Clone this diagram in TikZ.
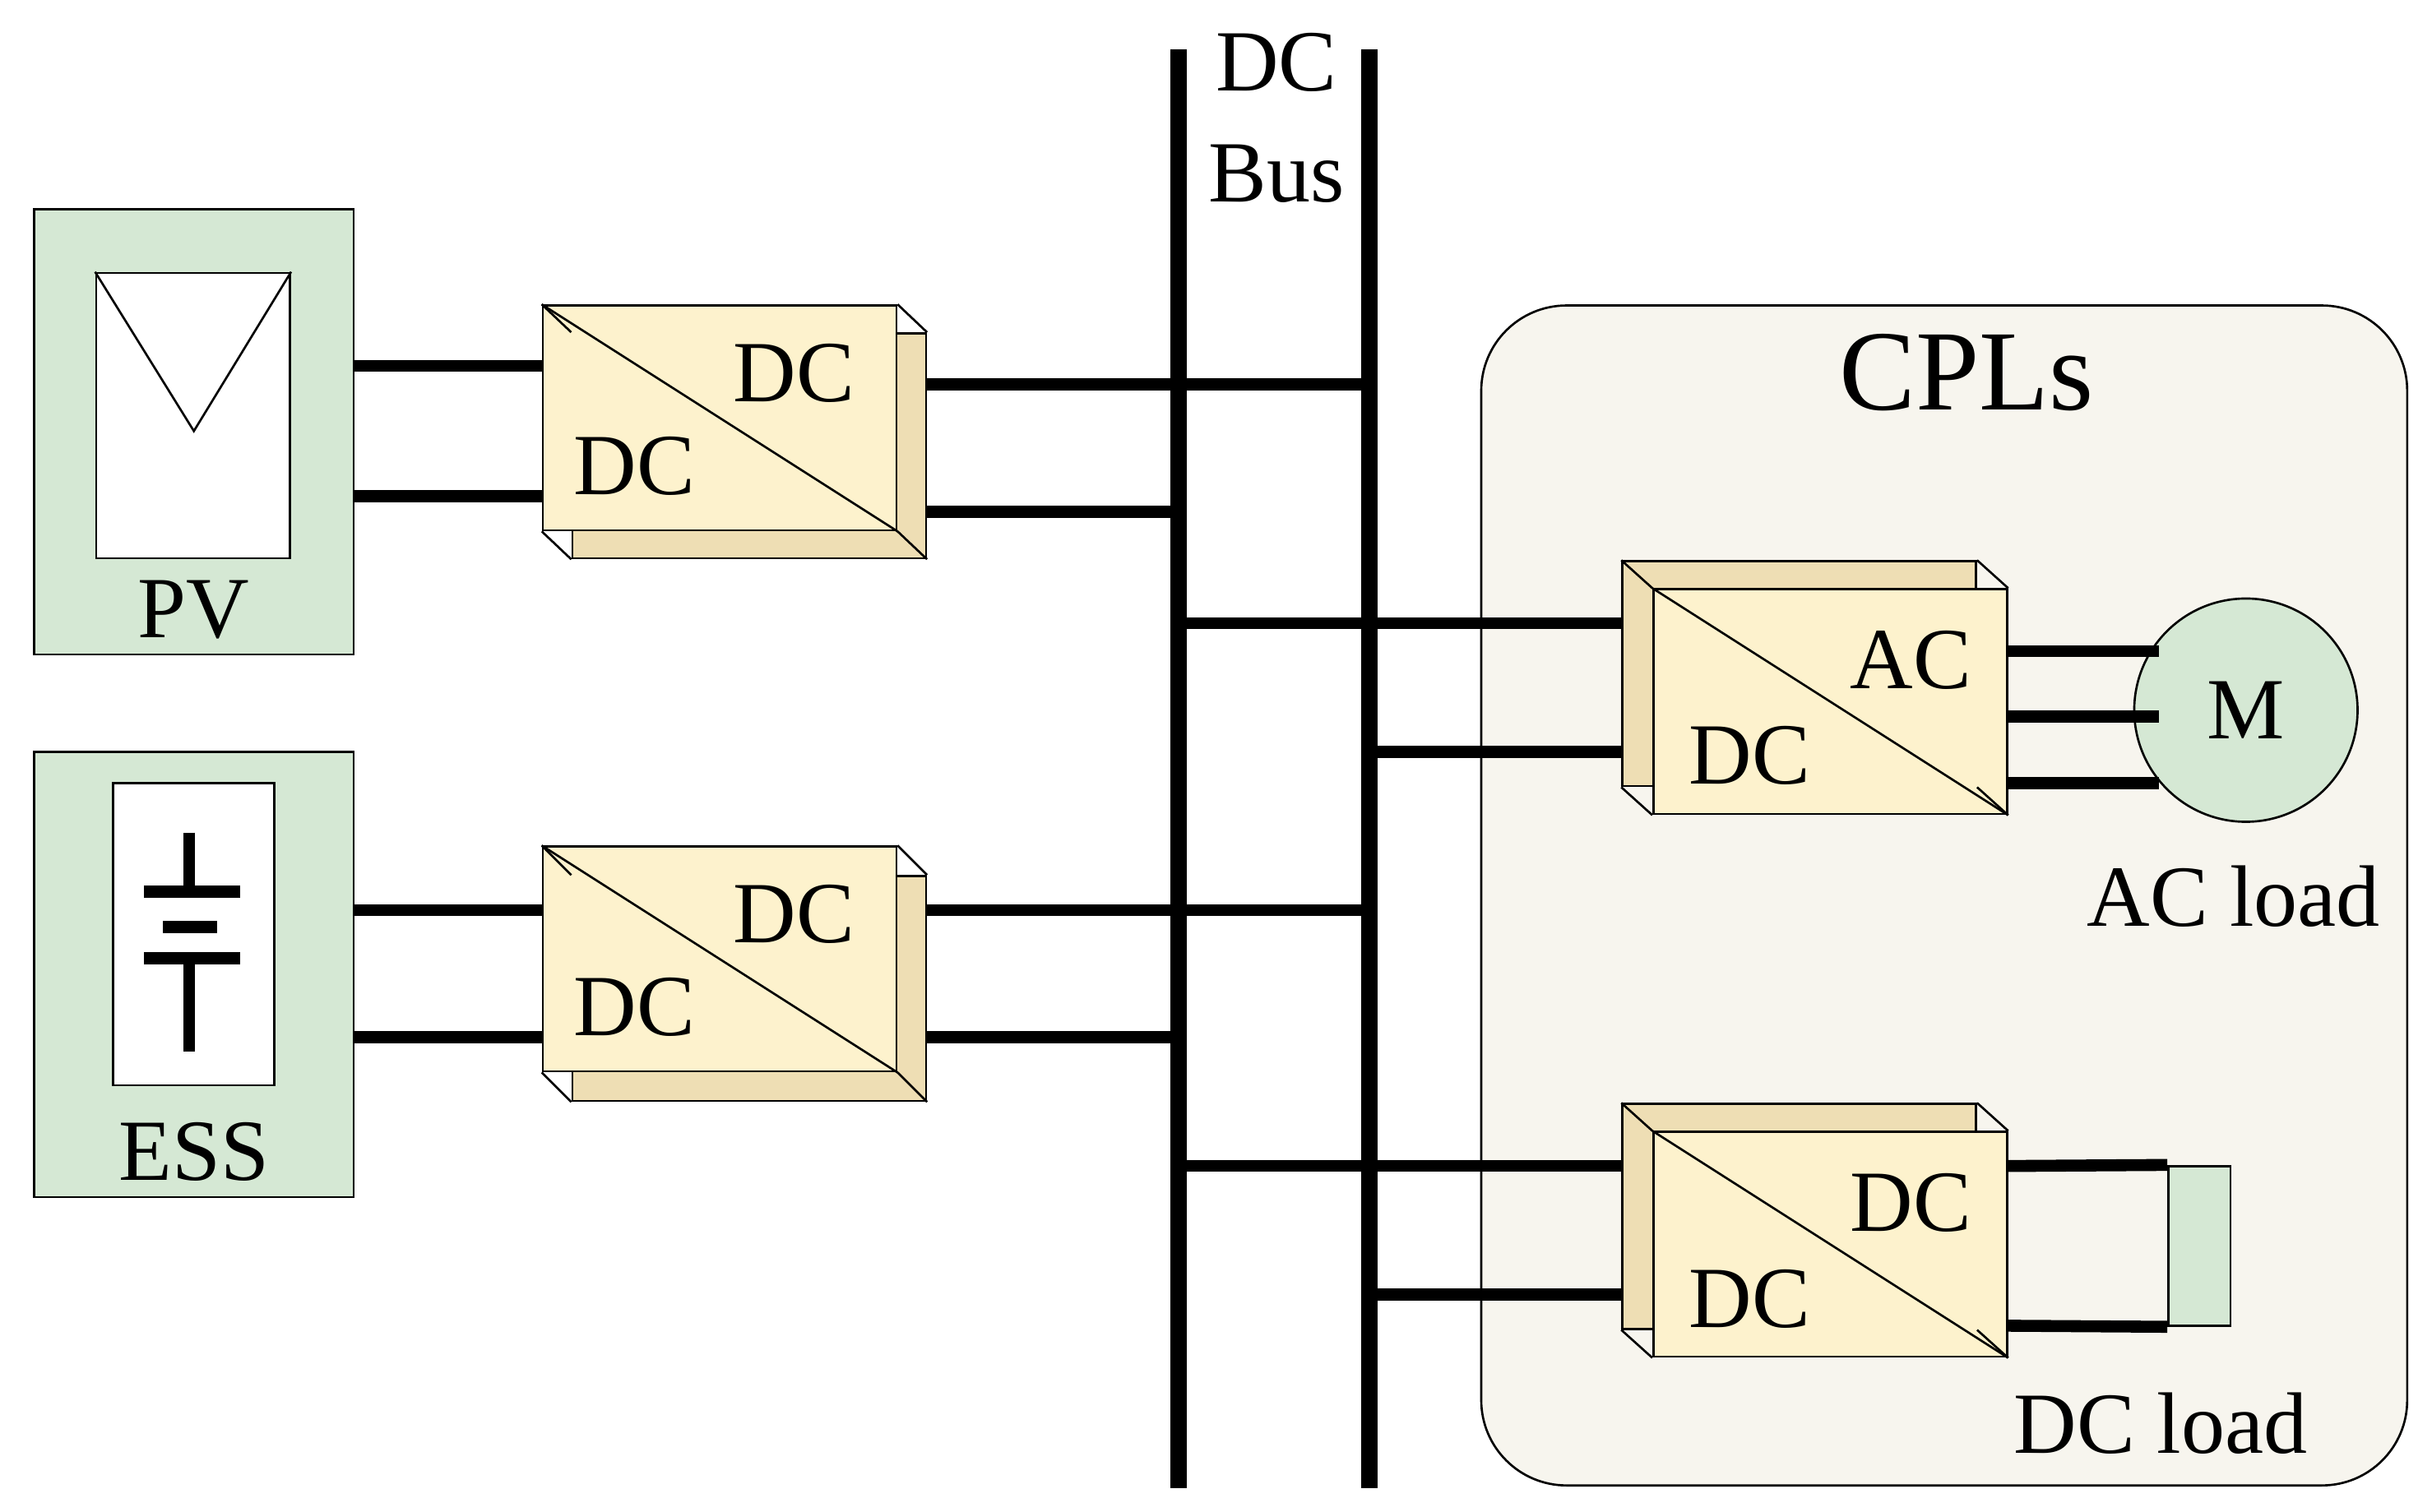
\documentclass[tikz,border=0pt]{standalone}
\usepackage{fontspec}
\setmainfont{Liberation Serif}
\usetikzlibrary{calc, positioning}
\definecolor{boxgreen}{RGB}{213,232,212}
\definecolor{convfront}{RGB}{253,242,205}
\definecolor{convside}{RGB}{238,222,180}
\definecolor{cplfill}{RGB}{247,245,238}
\tikzset{
  src/.style={draw, fill=boxgreen, minimum width=2.06cm, minimum height=2.87cm},
  inner/.style={draw, fill=white},
  conv/.style={draw, fill=convfront, minimum width=2.28cm, minimum height=1.45cm},
  convback/.style={draw, fill=convside, minimum width=2.28cm, minimum height=1.45cm},
  wire/.style={line width=2.2pt},
  bus/.style={line width=3pt},
  lbl/.style={font=\fontsize{16}{16}\selectfont}
}
\begin{document}
\begin{tikzpicture}
\useasboundingbox (0,0) rectangle (15.68,-9.75);
% CPL area
\draw[fill=cplfill, rounded corners=0.55cm] (9.55,-1.97) rectangle (15.52,-9.58);
\node[font=\fontsize{21}{21}\selectfont] (cpl) at (12.68,-2.40) {CPLs};
% sources
\node[src] (pv) at (1.25,-2.785) {};
\node[inner, minimum width=1.25cm, minimum height=1.84cm] (pvi) at (1.245,-2.68) {};
\draw (pvi.north west) -- (1.25,-2.78) -- (pvi.north east);
\node[lbl] (pvl) at (1.25,-3.93) {PV};
\node[src] (ess) at (1.25,-6.285) {};
\node[inner, minimum width=1.04cm, minimum height=1.95cm] (essi) at (1.25,-6.025) {};
\draw[wire] (1.22,-5.37) -- (1.22,-5.75);
\draw[wire] (0.93,-5.75) -- (1.55,-5.75);
\draw[wire] (1.05,-5.98) -- (1.40,-5.98);
\draw[wire] (0.93,-6.18) -- (1.55,-6.18);
\draw[wire] (1.22,-6.18) -- (1.22,-6.78);
\node[lbl] (essl) at (1.25,-7.43) {ESS};
% converters
\node[convback] (c1b) at (4.83,-2.875) {};
\node[conv] (c1) at (4.64,-2.695) {};
\node[convback] (c2b) at (4.83,-6.375) {};
\node[conv] (c2) at (4.64,-6.185) {};
\node[convback] (c3b) at (11.60,-4.345) {};
\node[conv] (c3) at (11.80,-4.525) {};
\node[convback] (c4b) at (11.60,-7.845) {};
\node[conv] (c4) at (11.80,-8.025) {};
\foreach \c in {c1,c2,c3,c4}{
  \draw (\c.north west) -- (\c.south east);
  \draw (\c.north east) -- (\c b.north east);
  \draw (\c.south west) -- (\c b.south west);
  \draw (\c.south east) -- (\c b.south east);
  \draw (\c.north west) -- (\c b.north west);
}
\node[lbl] at ($(c1)+(0.48,0.29)$) {DC};
\node[lbl] at ($(c1)+(-0.55,-0.31)$) {DC};
\node[lbl] at ($(c2)+(0.48,0.29)$) {DC};
\node[lbl] at ($(c2)+(-0.55,-0.31)$) {DC};
\node[lbl] at ($(c3)+(0.52,0.27)$) {AC};
\node[lbl] at ($(c3)+(-0.52,-0.35)$) {DC};
\node[lbl] at ($(c4)+(0.52,0.27)$) {DC};
\node[lbl] at ($(c4)+(-0.52,-0.35)$) {DC};
% DC bus
\coordinate (bL) at (7.60,-0.32);
\coordinate (bR) at (8.83,-0.32);
\draw[bus] (bL) -- (7.60,-9.60);
\draw[bus] (bR) -- (8.83,-9.60);
\node[lbl] (busa) at (8.23,-0.40) {DC};
\node[lbl] (busb) at (8.23,-1.12) {Bus};
% loads
\node[draw, circle, fill=boxgreen, minimum size=1.44cm, lbl] (m) at (14.48,-4.58) {M};
\node[lbl] (acl) at (14.40,-5.78) {AC load};
\node[draw, fill=boxgreen, minimum width=0.40cm, minimum height=1.03cm] (dcl) at (14.18,-8.035) {};
\node[lbl] (dcll) at (13.93,-9.18) {DC load};
% wire ends
\coordinate (p1) at ($(c1.west)+(0,.335)$);
\coordinate (p2) at ($(c1.west)+(0,-.505)$);
\coordinate (q1) at ($(c1b.east)+(0,.395)$);
\coordinate (q2) at ($(c1b.east)+(0,-.425)$);
\coordinate (e1) at ($(c2.west)+(0,.315)$);
\coordinate (e2) at ($(c2.west)+(0,-.505)$);
\coordinate (f1) at ($(c2b.east)+(0,.505)$);
\coordinate (f2) at ($(c2b.east)+(0,-.315)$);
\coordinate (g1) at ($(c3b.west)+(0,.325)$);
\coordinate (g2) at ($(c3b.west)+(0,-.505)$);
\coordinate (h1) at ($(c4b.west)+(0,.325)$);
\coordinate (h2) at ($(c4b.west)+(0,-.505)$);
\draw[wire] (p1 -| pv.east) -- (p1);
\draw[wire] (p2 -| pv.east) -- (p2);
\draw[wire] (q1) -- (q1 -| bR);
\draw[wire] (q2) -- (q2 -| bL);
\draw[wire] (e1 -| ess.east) -- (e1);
\draw[wire] (e2 -| ess.east) -- (e2);
\draw[wire] (f1) -- (f1 -| bR);
\draw[wire] (f2) -- (f2 -| bL);
\draw[wire] (g1 -| bL) -- (g1);
\draw[wire] (g2 -| bR) -- (g2);
\draw[wire] (h1 -| bL) -- (h1);
\draw[wire] (h2 -| bR) -- (h2);
\foreach \dy in {.325,-.095,-.525}
  \draw[wire] ($(c3.east)+(0,\dy)$) -- ($(c3.east)+(0.97,\dy)$);
\draw[wire] ($(c4.east)+(0,.505)$) -- (dcl.north west);
\draw[wire] ($(c4.east)+(0,-.525)$) -- (dcl.south west);
\end{tikzpicture}
\end{document}
